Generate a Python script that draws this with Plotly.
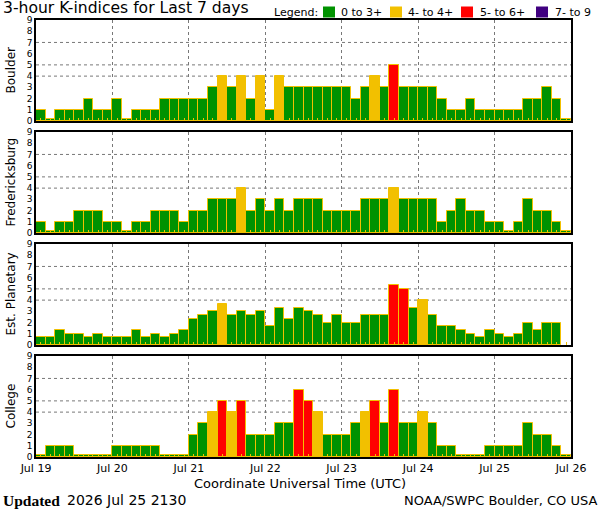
import plotly.graph_objects as go
import pandas as pd

# ---- data (3-hour K-indices, 8 per day, Jul 19 - Jul 25) ----
stations = ["Boulder", "Fredericksburg", "Est. Planetary", "College"]
boulder = [1, 0, 1, 1, 1, 2, 1, 1,
           2, 0, 1, 1, 1, 2, 2, 2,
           2, 2, 3, 4, 3, 4, 2, 4,
           1, 4, 3, 3, 3, 3, 3, 3,
           3, 2, 3, 4, 3, 5, 3, 3,
           3, 3, 2, 1, 1, 2, 1, 1,
           1, 1, 1, 2, 2, 3, 2, 0]
fredericksburg = [1, 0, 1, 1, 2, 2, 2, 1,
                  1, 0, 1, 1, 2, 2, 2, 1,
                  2, 2, 3, 3, 3, 4, 2, 3,
                  2, 3, 2, 3, 3, 3, 2, 2,
                  2, 2, 3, 3, 3, 4, 3, 3,
                  3, 3, 1, 2, 3, 2, 2, 1,
                  1, 0, 1, 3, 2, 2, 1, 0]
planetary = [0.67, 0.67, 1.33, 1, 1, 0.67, 1, 0.67,
             0.67, 0.67, 1.33, 0.67, 1, 0.67, 1, 1.33,
             2.33, 2.67, 3, 3.67, 2.67, 3, 2.67, 3,
             1.67, 3.33, 2.33, 3.33, 3, 2.67, 2, 2.67,
             2, 2, 2.67, 2.67, 2.67, 5.33, 5, 3.33,
             4, 2.67, 1.67, 1.67, 1.33, 1, 0.67, 1.33,
             1, 0.67, 1, 2, 1.33, 2, 2, None]
college = [0, 1, 1, 1, 0, 0, 0, 0,
           1, 1, 1, 1, 1, 0, 0, 0,
           2, 3, 4, 5, 4, 5, 2, 2,
           2, 3, 3, 6, 5, 4, 2, 2,
           2, 3, 4, 5, 3, 6, 3, 3,
           4, 3, 1, 1, 0, 0, 0, 1,
           1, 1, 1, 3, 2, 2, 1, 0]
series = [boulder, fredericksburg, planetary, college]

legend_labels = ["0 to 3+", "4- to 4+", "5- to 6+", "7- to 9"]
GREEN, YELLOW, RED, PURPLE = "rgb(0,146,0)", "rgb(242,192,0)", "rgb(255,0,0)", "rgb(64,0,128)"
legend_colors = [GREEN, YELLOW, RED, PURPLE]

times = pd.date_range("2026-07-19 01:30", periods=56, freq="3h")
BAR_MS = 3 * 3600 * 1000


def kcolor(v):
    if v is None:
        return GREEN
    if v < 3.5:
        return GREEN
    if v < 4.5:
        return YELLOW
    if v < 6.5:
        return RED
    return PURPLE


# pixel layout helpers
L, R, T, B = 36, 571, 20, 457
W, H = R - L, B - T


def px(p):
    return (p - L) / W


def py(q):
    return (B - q) / H


panel_px = [(20, 121), (132, 233), (244, 345), (356, 457)]

fig = go.Figure()
GRID = "rgb(120,120,120)"
FONT = "DejaVu Sans"

for i, (name, vals) in enumerate(zip(stations, series)):
    n = i + 1
    xa = "x" if n == 1 else f"x{n}"
    ya = "y" if n == 1 else f"y{n}"
    heights = [None if v is None else max(v, 0.15) for v in vals]
    fig.add_trace(go.Bar(
        x=times, y=heights, width=BAR_MS,
        marker=dict(color=[kcolor(v) for v in vals],
                    line=dict(color=YELLOW, width=1)),
        xaxis=xa, yaxis=ya, showlegend=False, hoverinfo="skip",
    ))
    top, bot = panel_px[i]
    dom = [py(bot), py(top)]
    xkey = "xaxis" if n == 1 else f"xaxis{n}"
    ykey = "yaxis" if n == 1 else f"yaxis{n}"
    fig.layout[xkey] = dict(
        type="date", range=["2026-07-19", "2026-07-26"],
        anchor=ya, domain=[0, 1],
        tick0="2026-07-19", dtick=86400000, tickformat="%b %d",
        showticklabels=(n == 4),
        tickfont=dict(family=FONT, size=11, color="black"),
        ticks="", showgrid=True, gridcolor=GRID, griddash="dot", gridwidth=1,
        showline=True, linecolor="black", linewidth=1.5, mirror=True,
        minor=dict(ticks="inside", ticklen=3, tickcolor=YELLOW, tickwidth=1,
                   tick0="2026-07-19 01:30", dtick=BAR_MS, showgrid=False),
        zeroline=False, fixedrange=True,
    )
    if n != 1:
        fig.layout[xkey]["matches"] = "x"
    fig.layout[ykey] = dict(
        domain=dom, anchor=xa, range=[0, 9],
        tickmode="array", tickvals=list(range(10)),
        ticktext=[str(k) for k in range(10)],
        tickfont=dict(family=FONT, size=9, color="black"),
        ticks="", showgrid=False, zeroline=False,
        showline=True, linecolor="black", linewidth=1.5, mirror=True,
        fixedrange=True,
    )
    for lvl in (4, 5, 7):
        fig.add_shape(type="line", xref=f"{xa} domain", yref=ya,
                      x0=0, x1=1, y0=lvl, y1=lvl, layer="below",
                      line=dict(color=GRID, width=1, dash="dot"))
    fig.add_annotation(text=name, textangle=-90, xref="paper", yref="paper",
                       x=px(10), y=(dom[0] + dom[1]) / 2, showarrow=False,
                       xanchor="center", yanchor="middle",
                       font=dict(family=FONT, size=12, color="black"))

# title
fig.add_annotation(text="3-hour K-indices for Last 7 days", xref="paper", yref="paper",
                   x=px(1), y=py(8.5), xanchor="left", yanchor="middle", showarrow=False,
                   font=dict(family=FONT, size=15.6, color="black"))
# legend
fig.add_annotation(text="Legend:", xref="paper", yref="paper",
                   x=px(272), y=py(12), xanchor="left", yanchor="middle", showarrow=False,
                   font=dict(family=FONT, size=11, color="black"))
sq_x = [323, 390, 461, 536]
txt_x = [339, 406, 478, 553]
for c, lab, sx, tx in zip(legend_colors, legend_labels, sq_x, txt_x):
    fig.add_shape(type="rect", xref="paper", yref="paper",
                  x0=px(sx), x1=px(sx + 12), y0=py(17.5), y1=py(6.5),
                  fillcolor=c, line=dict(width=0))
    fig.add_annotation(text=lab, xref="paper", yref="paper",
                       x=px(tx), y=py(12), xanchor="left", yanchor="middle", showarrow=False,
                       font=dict(family=FONT, size=11, color="black"))

# bottom texts
fig.add_annotation(text="Coordinate Universal Time (UTC)", xref="paper", yref="paper",
                   x=px(300), y=py(484), xanchor="center", yanchor="middle", showarrow=False,
                   font=dict(family=FONT, size=13, color="black"))
fig.add_annotation(text="<b>Updated</b>", xref="paper", yref="paper",
                   x=px(1), y=py(500), xanchor="left", yanchor="middle", showarrow=False,
                   font=dict(family="Liberation Serif", size=15.5, color="black"))
fig.add_annotation(text="2026 Jul 25 2130", xref="paper", yref="paper",
                   x=px(65), y=py(500), xanchor="left", yanchor="middle", showarrow=False,
                   font=dict(family=FONT, size=14, color="black"))
fig.add_annotation(text="NOAA/SWPC Boulder, CO USA", xref="paper", yref="paper",
                   x=px(599), y=py(500), xanchor="right", yanchor="middle", showarrow=False,
                   font=dict(family=FONT, size=13, color="black"))

fig.update_layout(
    width=600, height=510,
    margin=dict(l=L, r=600 - R, t=T, b=510 - B, pad=0),
    paper_bgcolor="white", plot_bgcolor="white",
    bargap=0, barmode="overlay",
    font=dict(family=FONT, color="black"),
    showlegend=False,
)

fig.write_html("out.html", config={"displayModeBar": False},
               post_script="document.body.style.margin='0';document.body.style.padding='0';")
